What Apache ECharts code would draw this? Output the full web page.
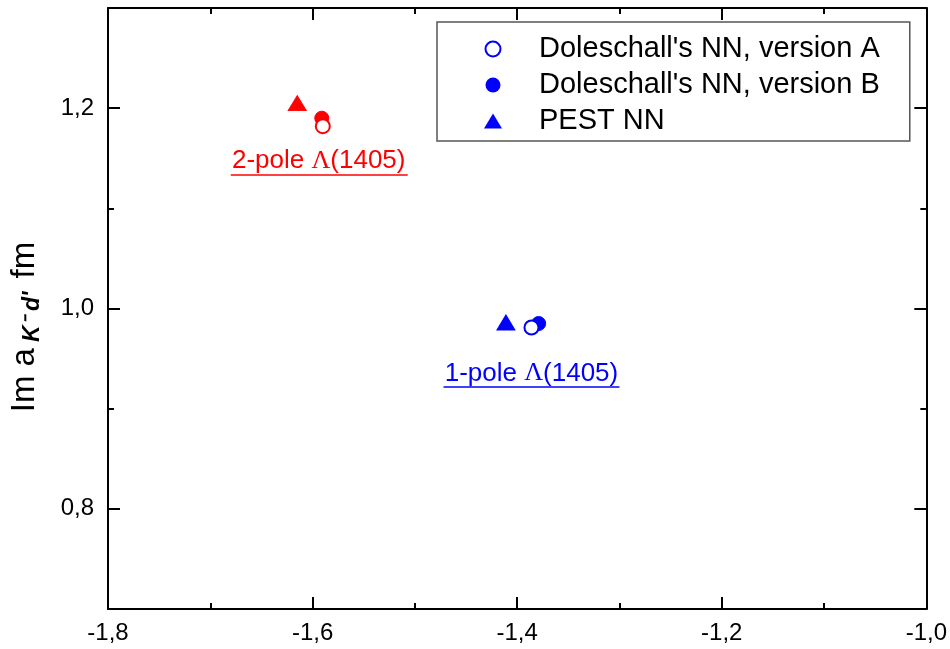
<!DOCTYPE html>
<html>
<head>
<meta charset="utf-8">
<script src="https://cdn.jsdelivr.net/npm/echarts@6/dist/echarts.min.js"></script>
<style>html,body{margin:0;padding:0;background:#fff}#c{width:950px;height:649px}</style>
</head>
<body>
<div id="c"></div>
<script>
// ---- data ----
const seriesNames = ["Doleschall's NN, version A", "Doleschall's NN, version B", "PEST NN"];
// [x, y] : 2-pole (red) then 1-pole (blue)
const versionA = [[-1.590, 1.182], [-1.386, 0.981]];
const versionB = [[-1.591, 1.190], [-1.379, 0.985]];
const pestNN   = [[-1.615, 1.205], [-1.411, 0.986]];
const pointColors = ['#ff0000', '#0000ff'];
const annotationText = ['2-pole ', '1-pole '];
const annotationPos = [[-1.594, 1.147], [-1.386, 0.935]];
const underlines = [[[-1.680, 1.134], [-1.507, 1.134]], [[-1.472, 0.922], [-1.300, 0.922]]];
const xMajor = [-1.8, -1.6, -1.4, -1.2, -1.0];
const xMinor = [-1.7, -1.5, -1.3, -1.1];
const yMajor = [0.8, 1.0, 1.2];
const yMinor = [0.9, 1.1];

const FONT = 'Liberation Sans, Arial, sans-serif';
const fmt = v => Number(v).toFixed(1).replace('.', ',');

function mkX(pos, ticks, len, line, labels) {
  return {
    type: 'value', min: -1.8, max: -1.0, position: pos,
    axisLine: { show: line, onZero: false, lineStyle: { color: '#000', width: 2 } },
    axisTick: { show: true, inside: true, length: len, customValues: ticks, lineStyle: { color: '#000', width: 2 } },
    axisLabel: labels ? { show: true, customValues: ticks, formatter: fmt, fontSize: 24, color: '#000', fontFamily: FONT, margin: 12 } : { show: false },
    splitLine: { show: false }
  };
}
function mkY(pos, ticks, len, line, labels, name) {
  const o = {
    type: 'value', min: 0.7, max: 1.3, position: pos,
    axisLine: { show: line, onZero: false, lineStyle: { color: '#000', width: 2 } },
    axisTick: { show: true, inside: true, length: len, customValues: ticks, lineStyle: { color: '#000', width: 2 } },
    axisLabel: labels ? { show: true, customValues: ticks, formatter: fmt, fontSize: 24, color: '#000', fontFamily: FONT, margin: 14 } : { show: false },
    splitLine: { show: false }
  };
  if (name) {
    o.name = '{m|Im a}{s|K⁻ d\'}{e| fm}';
    o.nameLocation = 'middle';
    o.nameGap = 64;
    o.nameTextStyle = {
      rich: {
        m: { fontSize: 33, fontFamily: FONT, color: '#000' },
        e: { fontSize: 33, fontFamily: FONT, color: '#000', padding: [0, 37, 0, 0] },
        s: { fontSize: 23, fontFamily: FONT, fontStyle: 'italic', fontWeight: 'bold', color: '#000', padding: [16, 4, 0, 6] }
      }
    };
  }
  return o;
}

function coloredData(arr) {
  return arr.map((p, i) => ({ value: p, itemStyle: { color: pointColors[i], borderColor: pointColors[i], opacity: 1 } }));
}

const chart = echarts.init(document.getElementById('c'), null, { renderer: 'canvas' });
chart.setOption({
  animation: false,
  backgroundColor: '#fff',
  grid: { left: 108, right: 20, top: 8, bottom: 40, containLabel: false },
  xAxis: [
    mkX('bottom', xMajor, 12, true, true),
    mkX('bottom', xMinor, 6, false, false),
    mkX('top', xMajor, 12, true, false),
    mkX('top', xMinor, 6, false, false)
  ],
  yAxis: [
    mkY('left', yMajor, 12, true, true, true),
    mkY('left', yMinor, 6, false, false, false),
    mkY('right', yMajor, 12, true, false, false),
    mkY('right', yMinor, 6, false, false, false)
  ],
  legend: {
    data: seriesNames,
    orient: 'vertical',
    left: 437, top: 22,
    padding: [9, 30, 2, 47],
    itemWidth: 18, itemHeight: 15, itemGap: 0,
    borderColor: '#555', borderWidth: 1.5,
    backgroundColor: '#fff',
    textStyle: { fontSize: 29, fontFamily: FONT, color: '#000', lineHeight: 36, padding: [0, 0, 0, 32] }
  },
  series: [
    {
      name: seriesNames[0], type: 'scatter', symbol: 'emptyCircle', symbolSize: 14,
      color: '#0000ff', itemStyle: { color: '#0000ff', borderWidth: 1.5, opacity: 1 },
      data: coloredData(versionA), z: 4
    },
    {
      name: seriesNames[1], type: 'scatter', symbol: 'circle', symbolSize: 14,
      color: '#0000ff', itemStyle: { color: '#0000ff', opacity: 1 },
      data: coloredData(versionB), z: 3
    },
    {
      name: seriesNames[2], type: 'scatter', symbol: 'triangle', symbolSize: [18, 15],
      color: '#0000ff', itemStyle: { color: '#0000ff', opacity: 1 },
      data: coloredData(pestNN), z: 3
    },
    {
      name: 'annotations', type: 'scatter', symbolSize: 0, silent: true,
      itemStyle: { opacity: 1 },
      data: annotationPos.map((p, i) => ({
        value: p,
        itemStyle: { opacity: 1 },
        label: {
          show: true, position: 'inside',
          formatter: '{t|' + annotationText[i] + '}{l|Λ}{t|(1405)}',
          rich: {
            t: { fontSize: 26, fontFamily: FONT, color: pointColors[i] },
            l: { fontSize: 26, fontFamily: 'Liberation Serif, serif', color: pointColors[i] }
          }
        }
      })),
      markLine: {
        silent: true, symbol: 'none', label: { show: false },
        data: underlines.map((u, i) => [
          { coord: u[0], lineStyle: { color: pointColors[i], width: 1.5, type: 'solid', opacity: 1 } },
          { coord: u[1] }
        ])
      }
    }
  ]
});
</script>
</body>
</html>
